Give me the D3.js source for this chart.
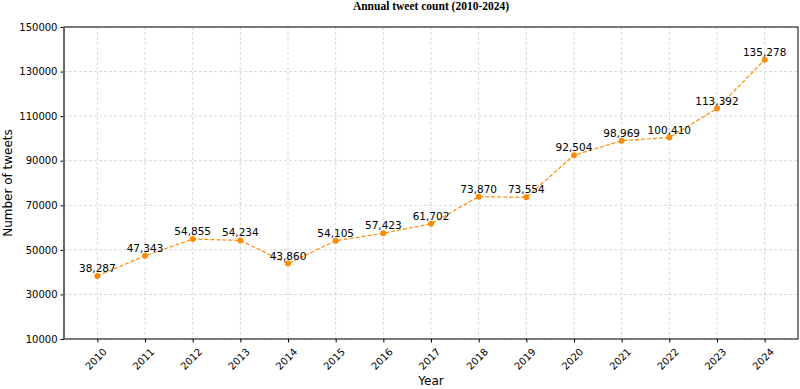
<!DOCTYPE html>
<html>
<head>
<meta charset="utf-8">
<script src="https://cdn.jsdelivr.net/npm/d3@7"></script>
<style>
  body { margin: 0; background: #fff; }
  svg { font-family: "DejaVu Sans", sans-serif; }
</style>
</head>
<body>
<svg id="chart"></svg>
<script>
'use strict';

const years = [2010, 2011, 2012, 2013, 2014, 2015, 2016, 2017, 2018, 2019, 2020, 2021, 2022, 2023, 2024];
const tweetCounts = [38287, 47343, 54855, 54234, 43860, 54105, 57423, 61702, 73870, 73554, 92504, 98969, 100410, 113392, 135278];
const yTicks = [10000, 30000, 50000, 70000, 90000, 110000, 130000, 150000];

const width = 800;
const height = 389;
const margin = {top: 27, right: 2, bottom: 50, left: 64};
const plotCenter = (margin.left + width - margin.right) / 2;

const svg = d3.select('#chart')
  .attr('width', width)
  .attr('height', height);

const x = d3.scaleLinear()
  .domain([2009.3, 2024.7])
  .range([margin.left, width - margin.right]);

const y = d3.scaleLinear()
  .domain([10000, 150000])
  .range([height - margin.bottom, margin.top]);

// grid
svg.append('g')
  .selectAll('line.vgrid')
  .data(years)
  .enter()
  .append('line')
  .attr('x1', d => x(d)).attr('x2', d => x(d))
  .attr('y1', margin.top).attr('y2', height - margin.bottom)
  .attr('stroke', '#cfcfcf')
  .attr('stroke-width', 0.8)
  .attr('stroke-dasharray', '3,2');

svg.append('g')
  .selectAll('line.hgrid')
  .data(yTicks)
  .enter()
  .append('line')
  .attr('x1', margin.left).attr('x2', width - margin.right)
  .attr('y1', d => y(d)).attr('y2', d => y(d))
  .attr('stroke', '#cfcfcf')
  .attr('stroke-width', 0.8)
  .attr('stroke-dasharray', '3,2');

// axes
const xAxis = svg.append('g')
  .attr('transform', `translate(0,${height - margin.bottom})`)
  .call(d3.axisBottom(x).tickValues(years).tickFormat(d3.format('d')).tickSize(3.5).tickSizeOuter(0));
xAxis.select('.domain').remove();
xAxis.selectAll('text')
  .style('font-size', '10px')
  .style('font-family', '"DejaVu Sans", sans-serif')
  .attr('fill', '#000')
  .attr('text-anchor', 'end')
  .attr('dx', 0)
  .attr('dy', 0)
  .attr('transform', 'translate(5,9) rotate(-45)');

const yAxis = svg.append('g')
  .attr('transform', `translate(${margin.left},0)`)
  .call(d3.axisLeft(y).tickValues(yTicks).tickFormat(d3.format('d')).tickSize(3.5).tickSizeOuter(0));
yAxis.select('.domain').remove();
yAxis.selectAll('text')
  .style('font-size', '10px')
  .style('font-family', '"DejaVu Sans", sans-serif')
  .attr('fill', '#000');

// frame
svg.append('rect')
  .attr('x', margin.left)
  .attr('y', margin.top)
  .attr('width', width - margin.left - margin.right)
  .attr('height', height - margin.top - margin.bottom)
  .attr('fill', 'none')
  .attr('stroke', '#000')
  .attr('stroke-width', 1);

svg.append('line')
  .attr('x1', margin.left).attr('x2', margin.left)
  .attr('y1', margin.top).attr('y2', height - margin.bottom)
  .attr('stroke', '#666')
  .attr('stroke-width', 2);

// line + markers
const line = d3.line()
  .x((d, i) => x(years[i]))
  .y(d => y(d));

svg.append('path')
  .datum(tweetCounts)
  .attr('d', line)
  .attr('fill', 'none')
  .attr('stroke', '#ff8c00')
  .attr('stroke-width', 1.2)
  .attr('stroke-dasharray', '4,2');

svg.append('g')
  .selectAll('circle')
  .data(tweetCounts)
  .enter()
  .append('circle')
  .attr('cx', (d, i) => x(years[i]))
  .attr('cy', d => y(d))
  .attr('r', 3)
  .attr('fill', '#ff8c00');

svg.append('g')
  .selectAll('text')
  .data(tweetCounts)
  .enter()
  .append('text')
  .attr('x', (d, i) => x(years[i]))
  .attr('y', d => y(d) - 4)
  .attr('text-anchor', 'middle')
  .style('font-size', '10.5px')
  .attr('fill', '#000')
  .text(d => d3.format(',')(d));

// titles
svg.append('text')
  .attr('x', plotCenter)
  .attr('y', 10)
  .attr('text-anchor', 'middle')
  .style('font-family', '"Liberation Serif", "Times New Roman", serif')
  .style('font-weight', 'bold')
  .style('font-size', '11.5px')
  .text('Annual tweet count (2010-2024)');

svg.append('text')
  .attr('x', plotCenter)
  .attr('y', 385)
  .attr('text-anchor', 'middle')
  .style('font-size', '12px')
  .text('Year');

svg.append('text')
  .attr('transform', `translate(12,${(margin.top + height - margin.bottom) / 2}) rotate(-90)`)
  .attr('text-anchor', 'middle')
  .style('font-size', '12px')
  .text('Number of tweets');
</script>
</body>
</html>
